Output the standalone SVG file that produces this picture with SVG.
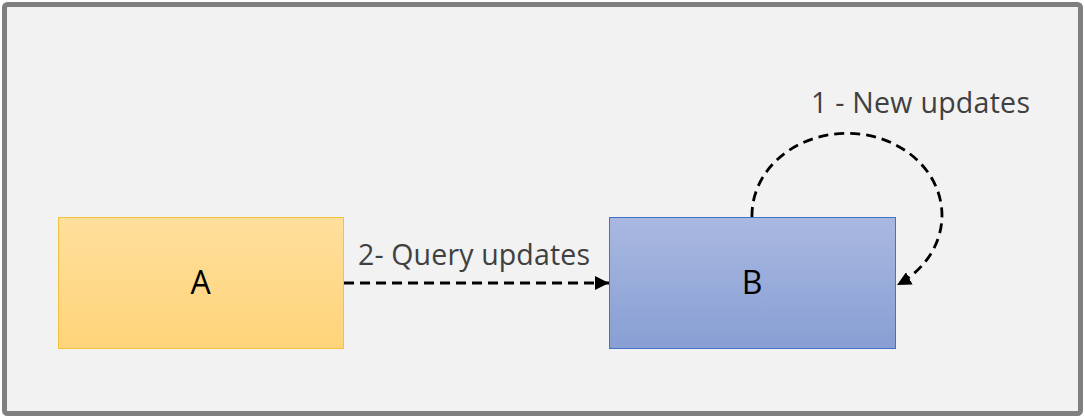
<svg xmlns="http://www.w3.org/2000/svg" width="1085" height="418" viewBox="0 0 1085 418">
<defs>
<linearGradient id="gA" x1="0" y1="0" x2="0" y2="1"><stop offset="0" stop-color="#ffdf9c"/><stop offset="1" stop-color="#ffd479"/></linearGradient>
<linearGradient id="gB" x1="0" y1="0" x2="0" y2="1"><stop offset="0" stop-color="#a9b8e1"/><stop offset="1" stop-color="#889fd3"/></linearGradient>
<marker id="arr" viewBox="0 0 10 10" refX="10" refY="5" markerWidth="5" markerHeight="5" orient="auto" markerUnits="strokeWidth"><path d="M0,0 L10,5 L0,10 z" fill="#000"/></marker>
</defs>
<style>
.lbl{font-family:"Open Sans","Noto Sans","DejaVu Sans",sans-serif;font-size:28.5px;fill:#404040}
.nt{font-family:"Open Sans","Noto Sans","DejaVu Sans",sans-serif;font-size:32px;fill:#000;text-anchor:middle}
.conn{fill:none;stroke:#000;stroke-width:2.8;stroke-dasharray:10,6}
</style>
<rect x="4.5" y="4.5" width="1076" height="409" rx="3" fill="#f2f2f2" stroke="#7f7f7f" stroke-width="5"/>
<g id="A"><rect x="58.5" y="217.5" width="285" height="131" fill="url(#gA)" stroke="#f5c140" stroke-width="1"/><text class="nt" x="200.5" y="294">A</text></g>
<g id="B"><rect x="609.5" y="217.5" width="286" height="131" fill="url(#gB)" stroke="#4472c4" stroke-width="1"/><text class="nt" x="752" y="294">B</text></g>
<g id="connectors">
<path class="conn" d="M344,283 L609,283" marker-end="url(#arr)"/>
<path class="conn" d="M752,217 A95,82 0 1 1 897,285" marker-end="url(#arr)"/>
<text class="lbl" x="358" y="265" textLength="232">2- Query updates</text>
<text class="lbl" x="811" y="113" textLength="219">1 - New updates</text>
</g>
</svg>
